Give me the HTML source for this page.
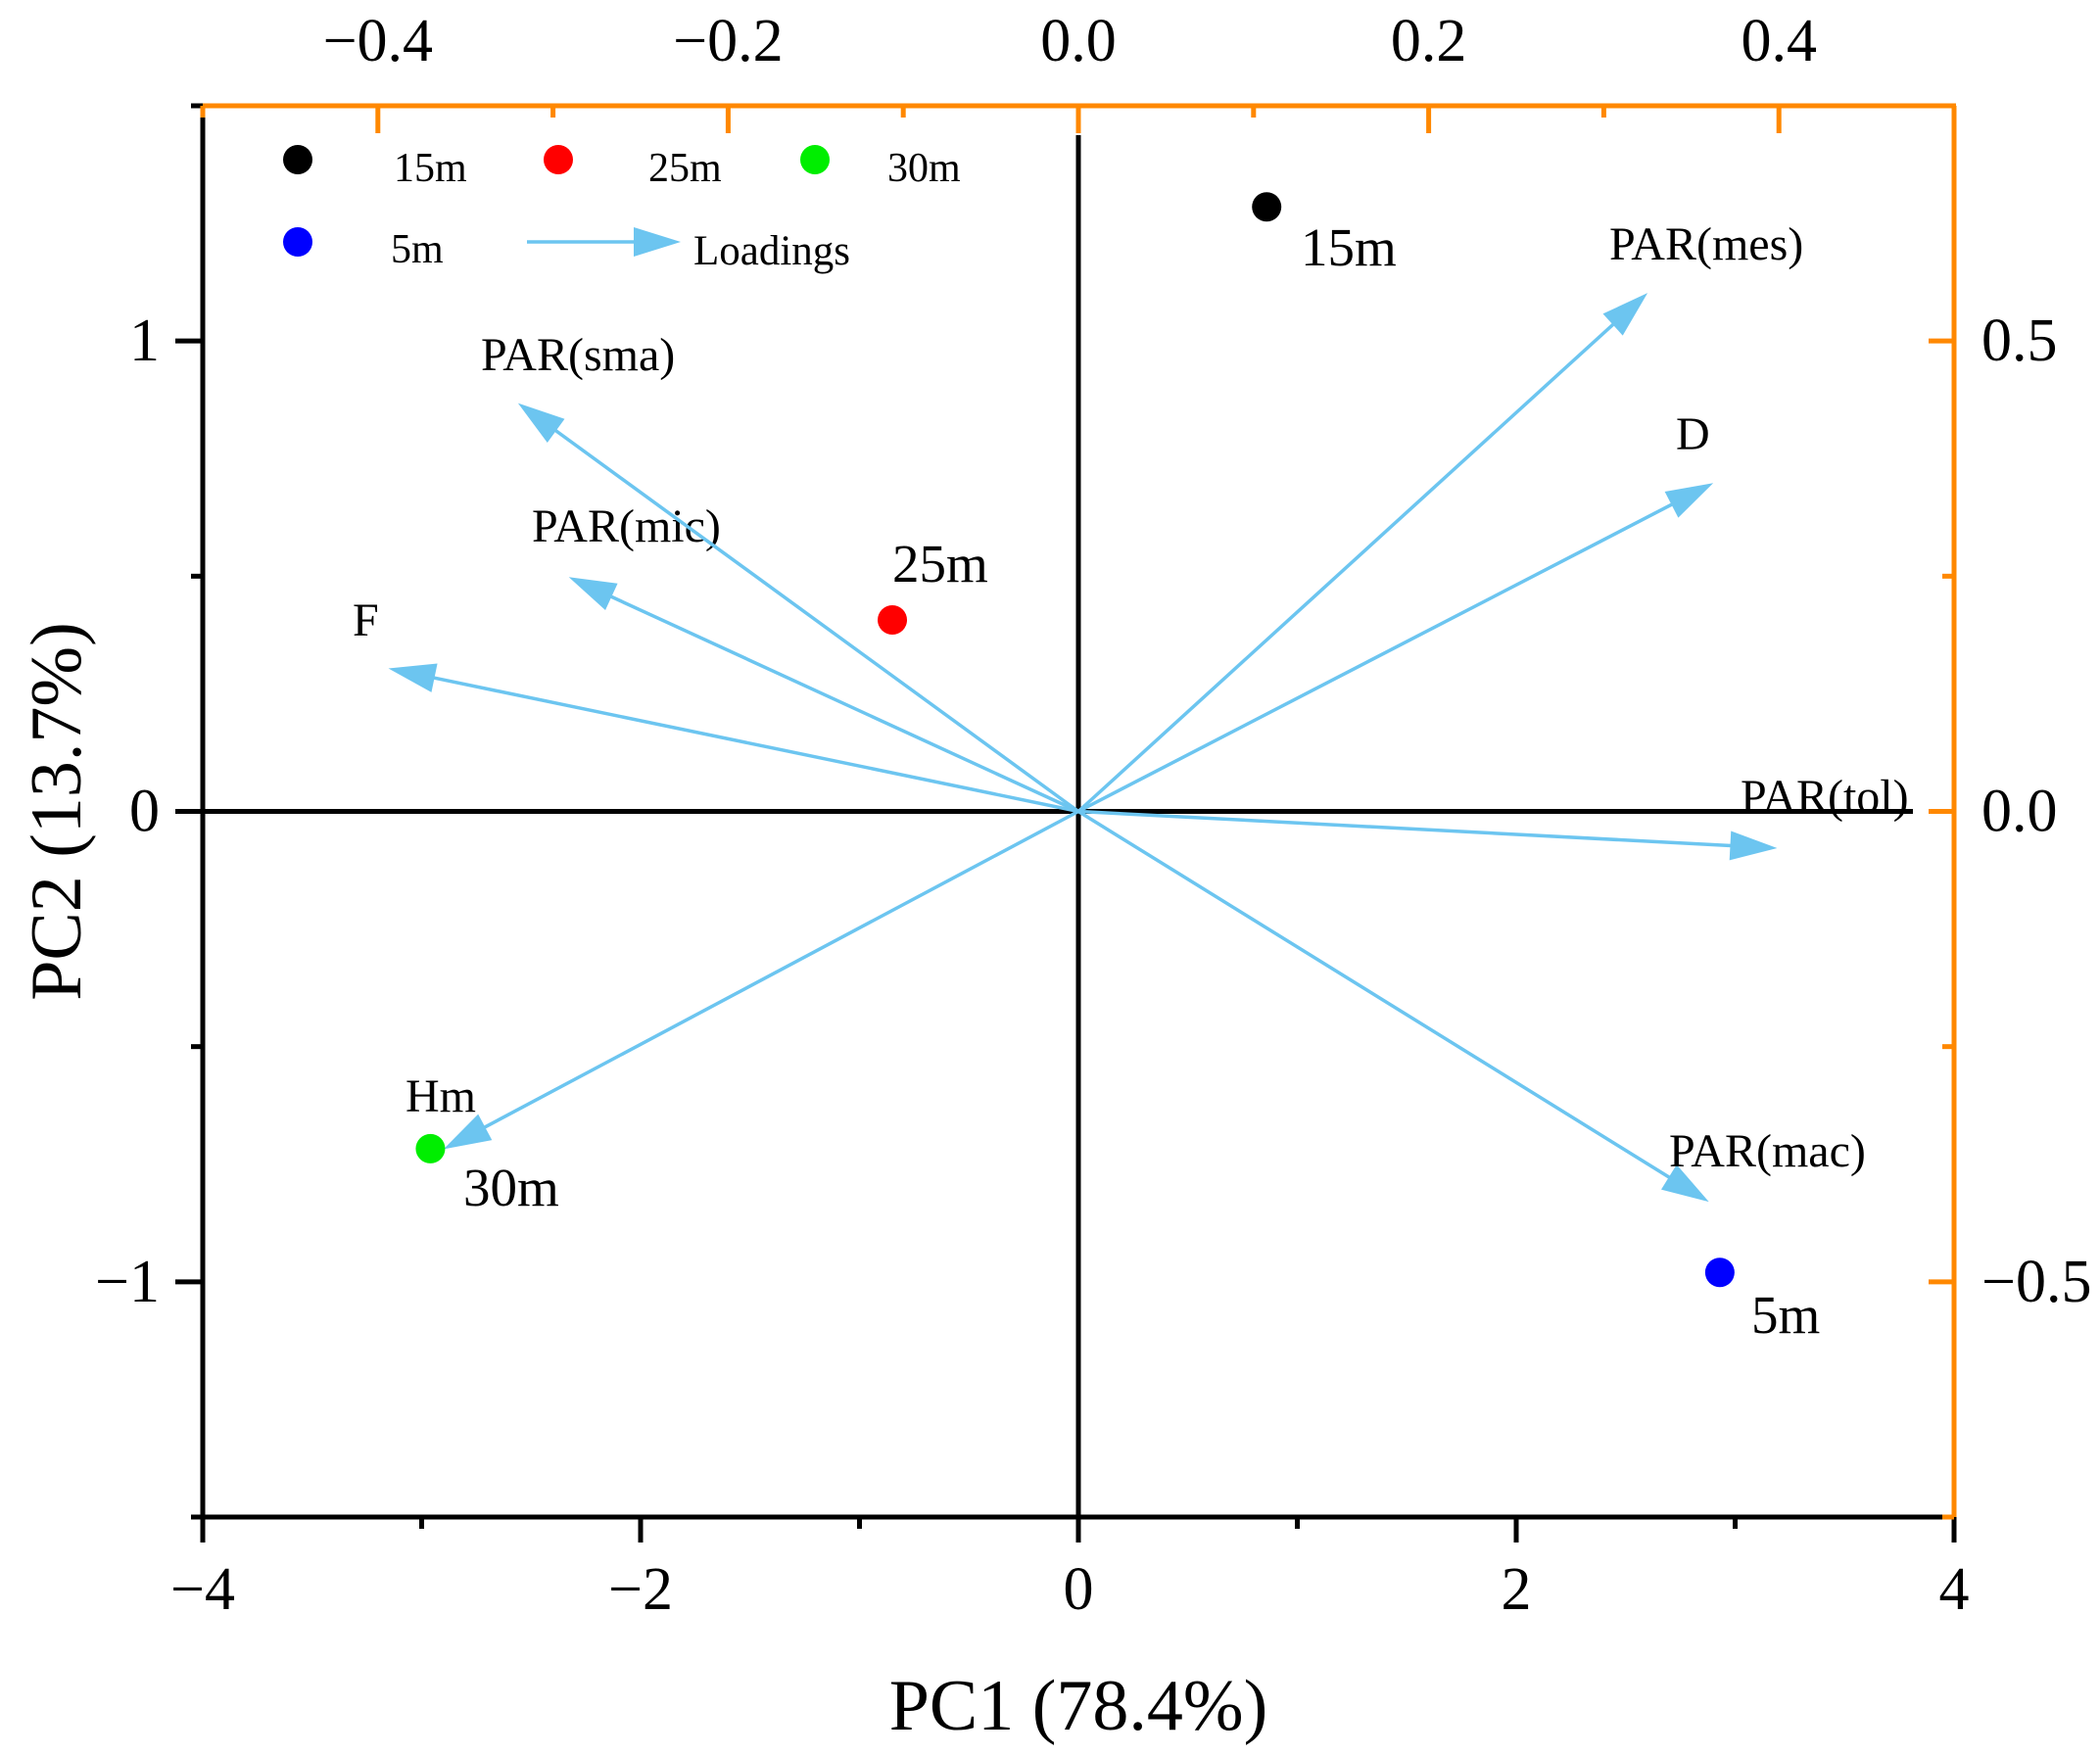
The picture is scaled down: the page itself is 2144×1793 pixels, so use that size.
<!DOCTYPE html>
<html><head><meta charset="utf-8"><style>
html,body{margin:0;padding:0;background:#fff;}
svg{display:block;font-family:"Liberation Serif",serif;}
</style></head><body>
<svg id="chart" width="2144" height="1793" viewBox="0 0 2144 1793" xmlns="http://www.w3.org/2000/svg">
<g id="grid"></g><g id="axes"></g><g id="arrows"></g><g id="points"></g><g id="legend"></g>
</svg>
<script>
// Data
const scoreNames = ["15m","25m","30m","5m"];
const scoreX = [0.86,-0.85,-2.96,2.93];
const scoreY = [1.285,0.407,-0.717,-0.98];
const scoreColors = ["#000000","#ff0000","#00ee00","#0000ff"];
const loadNames = ["PAR(mes)","D","PAR(tol)","PAR(mac)","Hm","F","PAR(mic)","PAR(sma)"];
const loadX = [0.325,0.3625,0.399,0.36,-0.3625,-0.394,-0.291,-0.32];
const loadY = [0.551,0.349,-0.039,-0.415,-0.359,0.152,0.249,0.434];
const bottomTicks = [-4,-2,0,2,4];
const leftTicks = [-1,0,1];
const topTicks = [-0.4,-0.2,0.0,0.2,0.4];
const rightTicks = [-0.5,0.0,0.5];

const L=207,R=1995,T=108,B=1549;
const sx=v=>L+(v+4)/8*(R-L);
const sy=v=>B-(v+1.5)/3*(B-T);
const tx=v=>L+(v+0.5)*(R-L);
const ty=v=>B-(v+0.75)/1.5*(B-T);
const NS="http://www.w3.org/2000/svg";
function mk(tag,attrs,parent,text){const e=document.createElementNS(NS,tag);for(const k in attrs)e.setAttribute(k,attrs[k]);if(text!==undefined)e.textContent=text;parent.appendChild(e);return e;}
const fmtNum=v=>(v<0?"\u2212":"")+Math.abs(v);
const fmt1=v=>(v<0?"\u2212":"")+Math.abs(v).toFixed(1);
const ORG="#ff8800";
const axes=document.getElementById('axes');
const grid=document.getElementById('grid');
// zero lines
let z=mk('line',{x1:sx(0),y1:T+30,x2:sx(0),y2:B,stroke:"#000","stroke-width":5},grid);

z=mk('line',{x1:L,y1:sy(0),x2:R-42,y2:sy(0),stroke:"#000","stroke-width":5},grid);

// frame
let a=mk('line',{x1:L-2,y1:B,x2:R,y2:B,stroke:"#000","stroke-width":5},axes);

a=mk('line',{x1:L,y1:T,x2:L,y2:B+2,stroke:"#000","stroke-width":5},axes);

a=mk('line',{x1:L,y1:T,x2:R+2,y2:T,stroke:ORG,"stroke-width":5},axes);

a=mk('line',{x1:R,y1:T,x2:R,y2:B,stroke:ORG,"stroke-width":5},axes);

// bottom ticks (outward)
for(let v=-4;v<=4;v++){const maj=v%2===0;mk('line',{x1:sx(v),y1:B,x2:sx(v),y2:B+(maj?26:12),stroke:"#000","stroke-width":5},axes);}
bottomTicks.forEach(v=>{const t=mk('text',{x:sx(v),y:1643,"font-size":62,"text-anchor":"middle",fill:"#000"},axes,fmtNum(v));
});
// left ticks
for(let v=-1.5;v<=1.5;v+=0.5){const maj=Math.abs(v%1)<1e-9;mk('line',{x1:L,y1:sy(v),x2:L-(maj?28:12),y2:sy(v),stroke:"#000","stroke-width":5},axes);}
leftTicks.forEach(v=>{const t=mk('text',{x:163,y:sy(v)+20,"font-size":62,"text-anchor":"end",fill:"#000"},axes,fmtNum(v));
});
// top ticks (inward)
for(let i=-5;i<=5;i++){const v=i/10;const maj=i%2===0;mk('line',{x1:tx(v),y1:T,x2:tx(v),y2:T+(maj?28:12),stroke:ORG,"stroke-width":5},axes);}
topTicks.forEach(v=>{const t=mk('text',{x:tx(v),y:62,"font-size":62,"text-anchor":"middle",fill:"#000"},axes,fmt1(v));
});
// right ticks (inward)
for(let i=-3;i<=3;i++){const v=i/4;const maj=i%2===0;mk('line',{x1:R,y1:ty(v),x2:R-(maj?26:12),y2:ty(v),stroke:ORG,"stroke-width":5},axes);}
rightTicks.forEach(v=>{const t=mk('text',{x:2023,y:ty(v)+20,"font-size":62,"text-anchor":"start",fill:"#000"},axes,fmt1(v));
});
// axis titles
let at=mk('text',{x:sx(0),y:1766,"font-size":74,"text-anchor":"middle",fill:"#000"},axes,"PC1 (78.4%)");

at=mk('text',{x:0,y:0,"font-size":74,"text-anchor":"middle",fill:"#000",transform:"translate(82,"+sy(0)+") rotate(-90)"},axes,"PC2 (13.7%)");

// arrows
const AC="#6cc5f0";
const arrows=document.getElementById('arrows');
const labelPos=[[1643,265],[1711,459],[1777,829],[1704,1191],[414,1135],[360,649],[543,553],[491,378]];
function arrowhead(x0,y0,x1,y1,parent){const dx=x1-x0,dy=y1-y0,len=Math.hypot(dx,dy),ux=dx/len,uy=dy/len;const hl=48,hw=15;const bx=x1-ux*hl,by=y1-uy*hl;
return mk('polygon',{points:`${x1},${y1} ${bx-uy*hw},${by+ux*hw} ${bx+uy*hw},${by-ux*hw}`,fill:AC},parent);}
loadNames.forEach((n,i)=>{const g=mk('g',{},arrows);


const x0=tx(0),y0=ty(0),x1=tx(loadX[i]),y1=ty(loadY[i]);
const dx=x1-x0,dy=y1-y0,len=Math.hypot(dx,dy);
mk('line',{x1:x0,y1:y0,x2:x1-dx/len*40,y2:y1-dy/len*40,stroke:AC,"stroke-width":3.5},g);
arrowhead(x0,y0,x1,y1,g);
const t=mk('text',{x:labelPos[i][0],y:labelPos[i][1],"font-size":48,fill:"#000"},g,n);
});
// points
const points=document.getElementById('points');
const ptLabel=[[1328,271],[911,594],[473,1231],[1788,1361]];
scoreNames.forEach((n,i)=>{const c=mk('circle',{cx:sx(scoreX[i]),cy:sy(scoreY[i]),r:15,fill:scoreColors[i]},points);

const t=mk('text',{x:ptLabel[i][0],y:ptLabel[i][1],"font-size":55,fill:"#000"},points,n);
});
// legend
const lg=document.getElementById('legend');

const legItems=[[304,163,"#000","15m",402,185],[570,163,"#ff0000","25m",662,185],[832,163,"#00ee00","30m",906,185],[304,247,"#0000ff","5m",399,268]];
legItems.forEach(it=>{const c=mk('circle',{cx:it[0],cy:it[1],r:15,fill:it[2]},lg);

const t=mk('text',{x:it[4],y:it[5],"font-size":42,fill:"#000"},lg,it[3]);
});
mk('line',{x1:538,y1:247,x2:650,y2:247,stroke:AC,"stroke-width":3.5},lg);
arrowhead(538,247,695,247,lg);
const lt=mk('text',{x:708,y:270,"font-size":43,fill:"#000"},lg,"Loadings");

</script>
</body></html>
